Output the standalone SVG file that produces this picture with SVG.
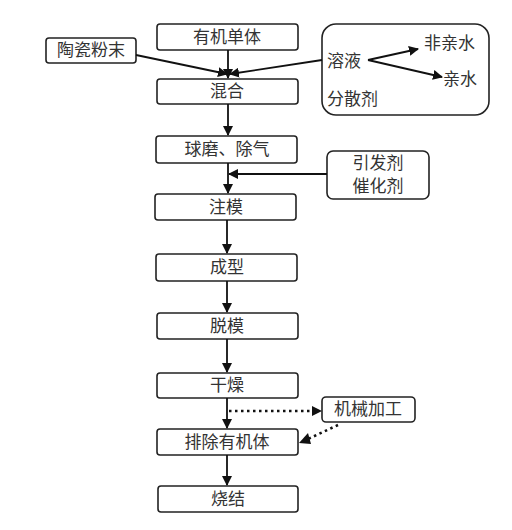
<svg xmlns="http://www.w3.org/2000/svg" width="512" height="530" viewBox="0 0 512 530">
<style>
.b{fill:#fff;stroke:#222;stroke-width:1.6}
.t{font-family:"Liberation Serif","Noto Sans CJK SC",serif;font-size:17px;fill:#333;text-anchor:middle}
.l{font-family:"Liberation Serif","Noto Sans CJK SC",serif;font-size:17px;fill:#333}
.c{stroke:#111;stroke-width:1.8;fill:none}
.d{stroke:#111;stroke-width:2.6;fill:none;stroke-dasharray:2.5 3.5}
</style>
<defs>
<marker id="a" viewBox="0 0 10 10" refX="9" refY="5" markerWidth="10" markerHeight="10" markerUnits="userSpaceOnUse" orient="auto"><path d="M0,0L10,5L0,10z" fill="#111"/></marker>
</defs>
<rect width="512" height="530" fill="#fff"/>
<g id="n1"><rect class="b" x="157" y="24" width="141" height="26" rx="3"/><text class="t" x="227" y="43">有机单体</text></g>
<g id="n2"><rect class="b" x="46" y="38" width="90" height="25" rx="3"/><text class="t" x="91" y="56">陶瓷粉末</text></g>
<g id="n3"><rect class="b" x="322" y="24" width="167" height="91" rx="14"/>
<text class="l" x="327" y="67">溶液</text><text class="l" x="327" y="105">分散剂</text>
<text class="l" x="424" y="49">非亲水</text><text class="l" x="443" y="85">亲水</text></g>
<g id="n4"><rect class="b" x="157" y="79" width="141" height="25" rx="3"/><text class="t" x="227" y="97">混合</text></g>
<g id="n5"><rect class="b" x="156" y="136" width="141" height="27" rx="3"/><text class="t" x="227" y="155">球磨、除气</text></g>
<g id="n6"><rect class="b" x="327" y="151" width="102" height="48" rx="6"/><text class="t" x="378" y="169">引发剂</text><text class="t" x="378" y="192">催化剂</text></g>
<g id="n7"><rect class="b" x="155" y="194" width="141" height="26" rx="3"/><text class="t" x="226" y="213">注模</text></g>
<g id="n8"><rect class="b" x="156" y="254" width="141" height="27" rx="3"/><text class="t" x="227" y="273">成型</text></g>
<g id="n9"><rect class="b" x="157" y="313" width="141" height="26" rx="3"/><text class="t" x="227" y="332">脱模</text></g>
<g id="n10"><rect class="b" x="157" y="373" width="141" height="25" rx="3"/><text class="t" x="227" y="391">干燥</text></g>
<g id="n11"><rect class="b" x="322" y="397" width="93" height="25" rx="4"/><text class="t" x="368" y="415">机械加工</text></g>
<g id="n12"><rect class="b" x="157" y="429" width="141" height="26" rx="3"/><text class="t" x="227" y="448">排除有机体</text></g>
<g id="n13"><rect class="b" x="158" y="486" width="140" height="26" rx="3"/><text class="t" x="228" y="505">烧结</text></g>
<g id="connectors">
<line class="c" x1="228" y1="50" x2="228" y2="78" marker-end="url(#a)"/>
<line class="c" x1="136" y1="55" x2="227" y2="74" marker-end="url(#a)"/>
<line class="c" x1="322" y1="60" x2="230" y2="74" marker-end="url(#a)"/>
<line class="c" x1="368" y1="60" x2="418" y2="49" marker-end="url(#a)"/>
<line class="c" x1="368" y1="60" x2="442" y2="77" marker-end="url(#a)"/>
<line class="c" x1="228" y1="104" x2="228" y2="135" marker-end="url(#a)"/>
<line class="c" x1="228" y1="163" x2="228" y2="193" marker-end="url(#a)"/>
<line class="c" x1="327" y1="174" x2="229" y2="174" marker-end="url(#a)"/>
<line class="c" x1="227" y1="220" x2="227" y2="253" marker-end="url(#a)"/>
<line class="c" x1="227" y1="281" x2="227" y2="312" marker-end="url(#a)"/>
<line class="c" x1="227" y1="339" x2="227" y2="372" marker-end="url(#a)"/>
<line class="c" x1="227" y1="398" x2="227" y2="428" marker-end="url(#a)"/>
<line class="c" x1="227" y1="455" x2="227" y2="485" marker-end="url(#a)"/>
<line class="d" x1="229" y1="411" x2="314" y2="411"/>
<path d="M312,406L322,411L312,416z" fill="#111"/>
<line class="d" x1="338" y1="425" x2="308" y2="439"/>
<path d="M308,433L299,443L311,444z" fill="#111"/>
</g>
</svg>
